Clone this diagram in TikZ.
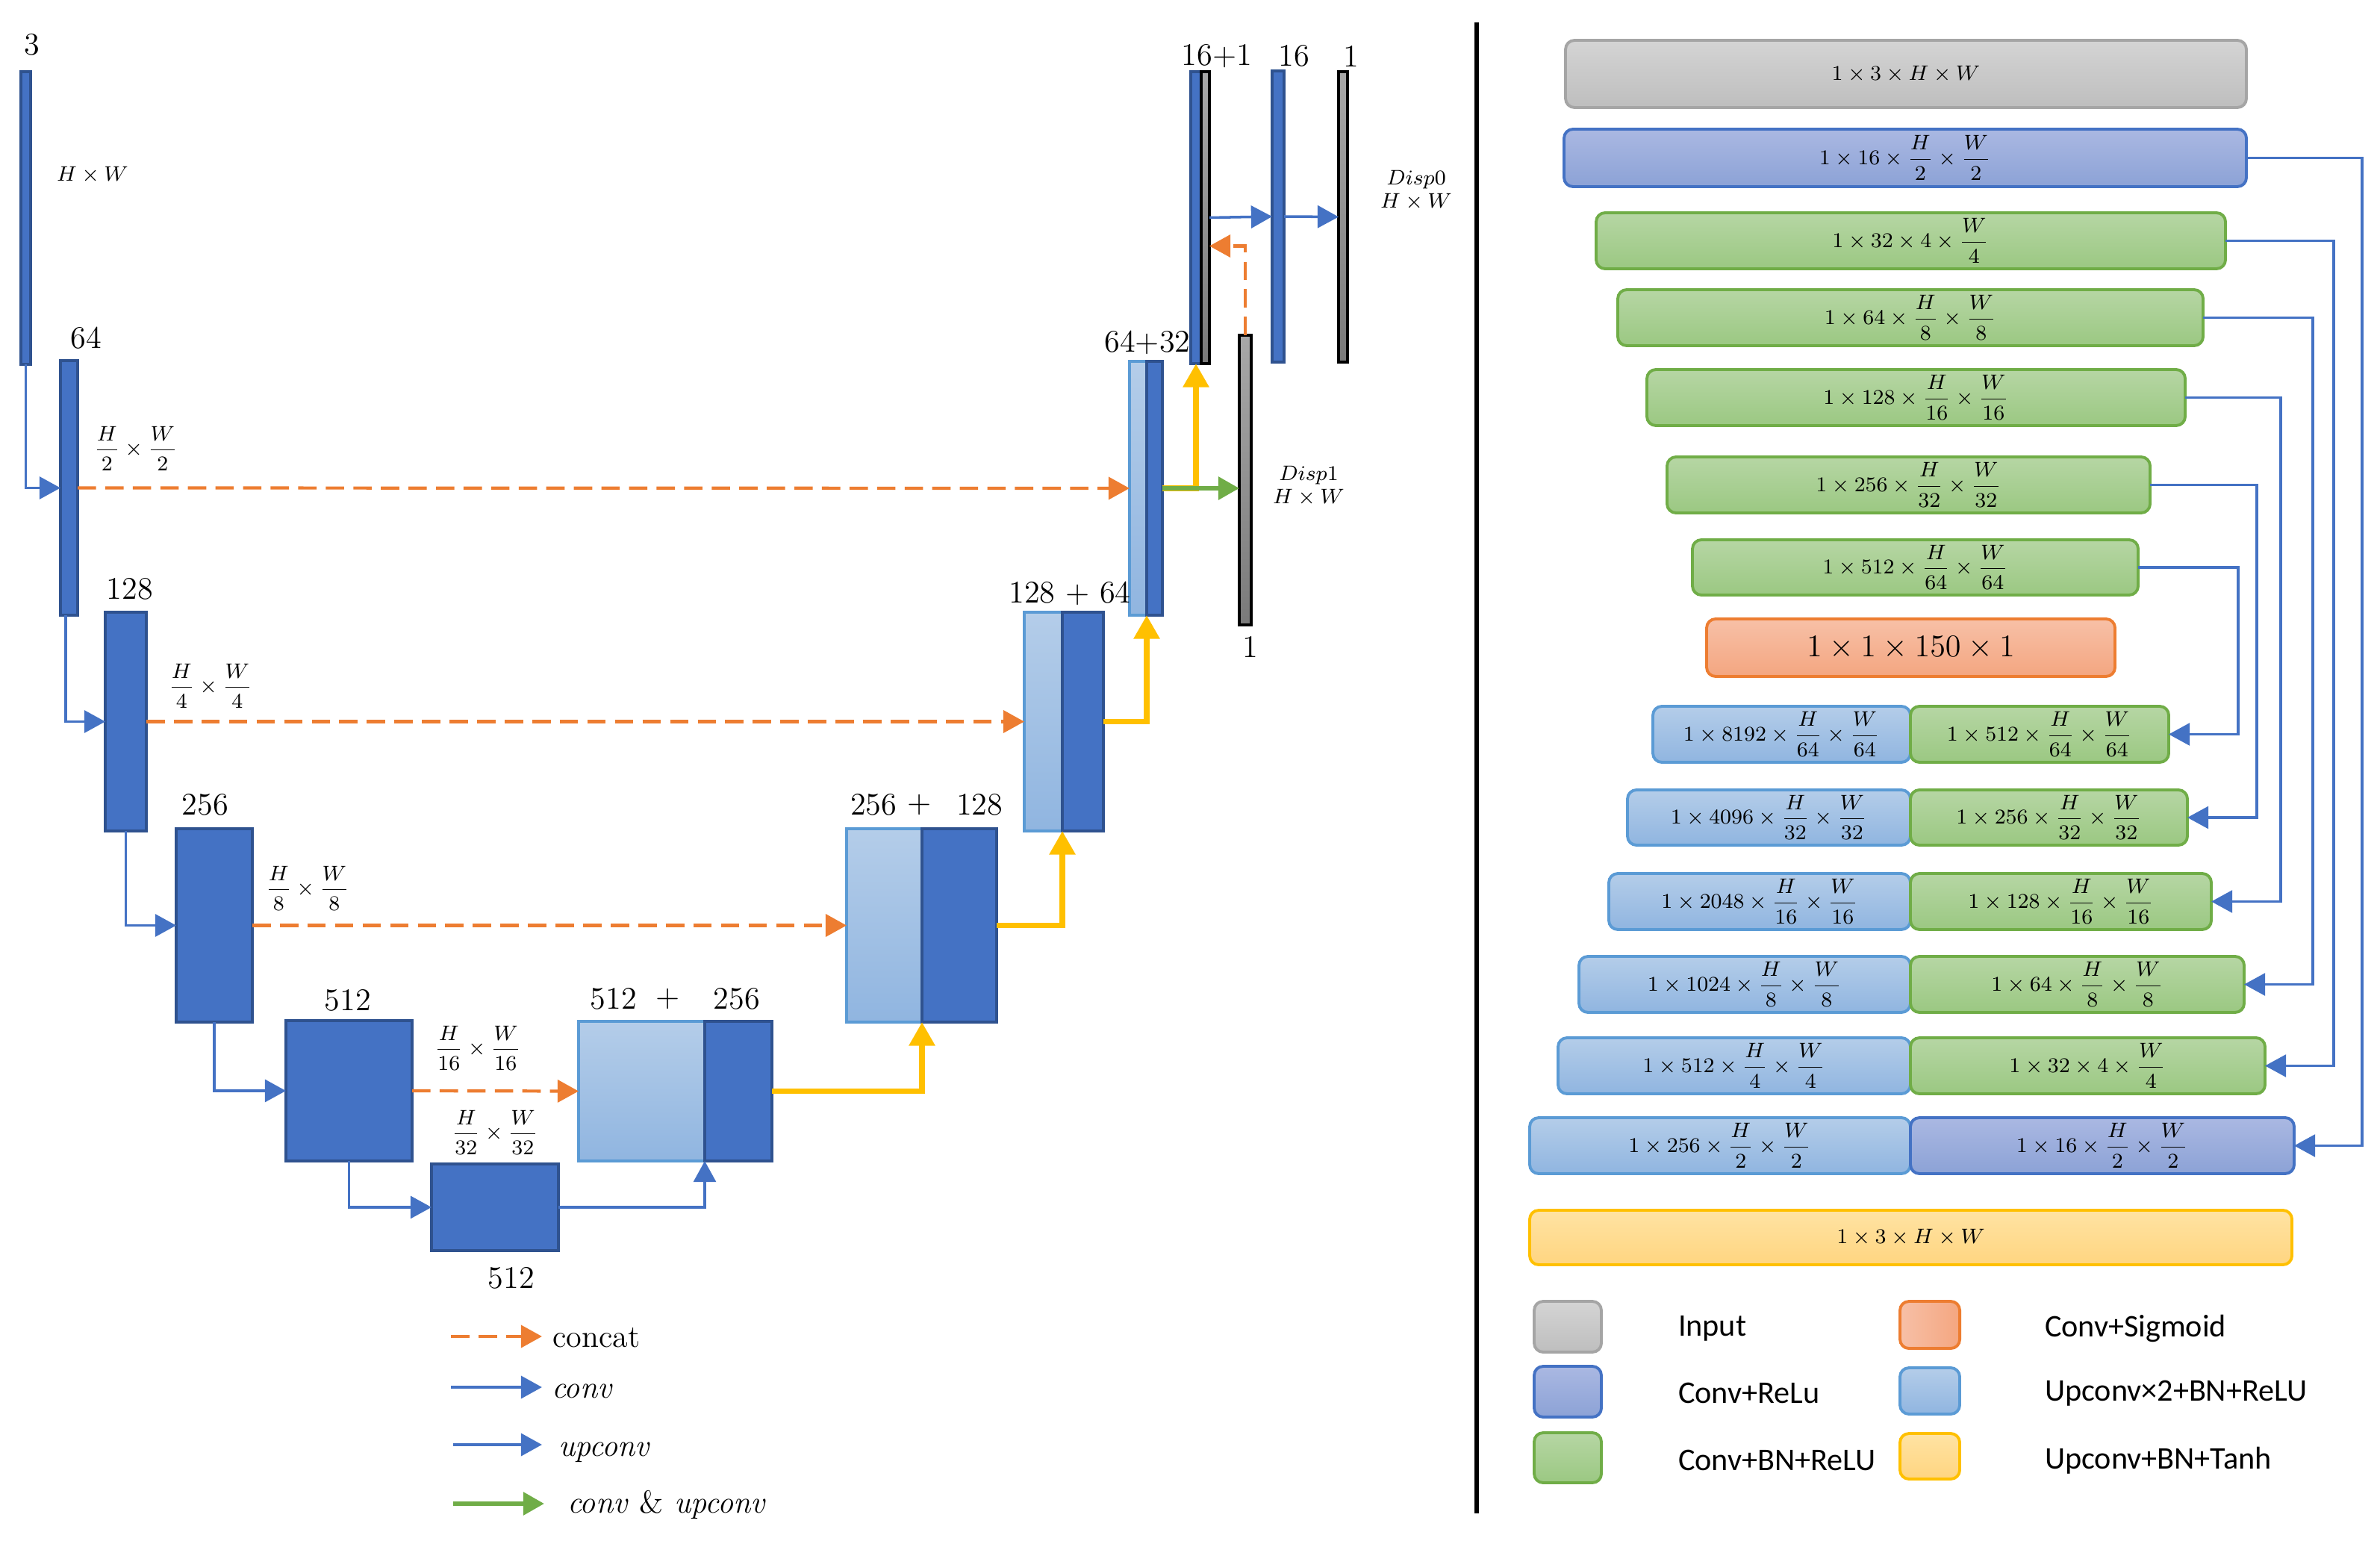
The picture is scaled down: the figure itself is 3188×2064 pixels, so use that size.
\documentclass[tikz,border=0pt]{standalone}
\usepackage{amsmath}
\usepackage{fontspec}
\newfontfamily\legfont{Carlito}
\usetikzlibrary{arrows.meta,calc}
\definecolor{encfill}{HTML}{4472C4}
\definecolor{encbord}{HTML}{2F528F}
\definecolor{uptop}{HTML}{B4CDE9}
\definecolor{upbot}{HTML}{90B5E0}
\definecolor{upbord}{HTML}{5B9BD5}
\definecolor{corange}{HTML}{ED7D31}
\definecolor{cyellow}{HTML}{FFC000}
\definecolor{cgreen}{HTML}{70AD47}
\definecolor{gtop}{HTML}{A8A8A8}
\definecolor{gbot}{HTML}{7A7A7A}
\definecolor{inptop}{HTML}{D4D4D4}
\definecolor{inpbot}{HTML}{BEBEBE}
\definecolor{inpbord}{HTML}{A5A5A5}
\definecolor{purtop}{HTML}{AAB8E2}
\definecolor{purbot}{HTML}{8CA2D6}
\definecolor{grntop}{HTML}{B6D6A4}
\definecolor{grnbot}{HTML}{9BC882}
\definecolor{orgtop}{HTML}{F7C0A7}
\definecolor{orgbot}{HTML}{F4A680}
\definecolor{yeltop}{HTML}{FFE3A3}
\definecolor{yelbot}{HTML}{FFD580}

\tikzset{
  nbase/.style={inner sep=0pt, outer sep=0pt},
  enc/.style={nbase, draw=encbord, fill=encfill, line width=1.3pt},
  upl/.style={nbase, draw=upbord, top color=uptop, bottom color=upbot, line width=0.9pt},
  gbar/.style={nbase, draw=black, top color=gtop, bottom color=gbot, line width=1.1pt},
  arrowtip/.style={-{Triangle[length=8pt,width=8.5pt]}},
  conn/.style={arrowtip, draw=encfill, line width=1pt},
  catl/.style={arrowtip, draw=corange, line width=1.2pt, dash pattern=on 7pt off 3.5pt},
  yel/.style={-{Triangle[length=9pt,width=9.5pt]}, draw=cyellow, line width=2.2pt},
  grn/.style={arrowtip, draw=cgreen, line width=1.8pt},
  numlab/.style={nbase, font=\fontsize{12}{14}\selectfont},
  dimlab/.style={nbase, font=\fontsize{8.5}{10}\selectfont, align=center},
  rb/.style={nbase, rounded corners=0.12cm, line width=1.1pt, font=\fontsize{8.5}{10}\selectfont},
  rin/.style={rb, draw=inpbord, top color=inptop, bottom color=inpbot},
  rpur/.style={rb, draw=encfill, top color=purtop, bottom color=purbot},
  rgrn/.style={rb, draw=cgreen, top color=grntop, bottom color=grnbot},
  rorg/.style={rb, draw=corange, top color=orgtop, bottom color=orgbot},
  rlb/.style={rb, draw=upbord, top color=uptop, bottom color=upbot},
  ryel/.style={rb, draw=cyellow, top color=yeltop, bottom color=yelbot},
  rconn/.style={arrowtip, draw=encfill, line width=0.9pt},
  legt/.style={nbase, anchor=west, font=\legfont\fontsize{12}{14}\selectfont},
  lleg/.style={nbase, anchor=base west, font=\fontsize{12}{14}\selectfont},
}
\newcommand\blk[6]{\node[#1, anchor=north west, minimum width={(#5-#3)*0.01cm}, minimum height={(#6-#4)*0.01cm}] (#2) at (#3,#4) {};}
\newcommand\rbx[7]{\node[#1, anchor=north west, minimum width={(#5-#3)*0.01cm}, minimum height={(#6-#4)*0.01cm}] (#2) at (#3,#4) {#7};}
\newcommand\dm[3]{$1\times #1\times\dfrac{H}{#2}\times\dfrac{W}{#3}$}

\begin{document}
\begin{tikzpicture}[x=0.01cm, y=-0.01cm]
\useasboundingbox (0,0) rectangle (3188,2064);

% ---------- encoder ----------
\blk{enc}{e3}{28}{96}{41}{488}
\blk{enc}{e64}{81}{483}{104}{824}
\blk{enc}{e128}{141}{820}{196}{1113}
\blk{enc}{e256}{236}{1110}{338}{1369}
\blk{enc}{e512}{383}{1367}{552}{1555}
\blk{enc}{bot}{578}{1559}{748}{1675}
% ---------- decoder ----------
\blk{upl}{d4l}{775}{1368}{944}{1555}
\blk{enc}{d4d}{944}{1368}{1034}{1555}
\blk{upl}{d3l}{1134}{1110}{1235}{1369}
\blk{enc}{d3d}{1235}{1110}{1335}{1369}
\blk{upl}{d2l}{1372}{820}{1423}{1113}
\blk{enc}{d2d}{1423}{820}{1478}{1113}
\blk{upl}{d1l}{1513}{484}{1536}{824}
\blk{enc}{d1d}{1536}{484}{1557}{824}
\blk{enc}{o1b}{1595}{96}{1609}{487}
\blk{gbar}{o1g}{1609}{96}{1620}{487}
\blk{enc}{b16}{1704}{95}{1720}{485}
\blk{gbar}{d0}{1793}{96}{1805}{485}
\blk{gbar}{disp1}{1660}{449}{1676}{837}

% ---------- labels ----------
\node[numlab] (t3) at (43,60) {3};
\node[dimlab] (thw) at (124,234) {$H\times W$};
\node[numlab] (t64) at (115,453) {64};
\node[dimlab] (f2) at (182,601) {$\dfrac{H}{2}\times\dfrac{W}{2}$};
\node[numlab] (t128) at (174,789) {128};
\node[dimlab] (f4) at (282,919) {$\dfrac{H}{4}\times\dfrac{W}{4}$};
\node[numlab] (t256) at (275,1078) {256};
\node[dimlab] (f8) at (412,1190) {$\dfrac{H}{8}\times\dfrac{W}{8}$};
\node[numlab] (t512) at (466,1340) {512};
\node[dimlab] (f16) at (640,1404) {$\dfrac{H}{16}\times\dfrac{W}{16}$};
\node[dimlab] (f32) at (663,1517) {$\dfrac{H}{32}\times\dfrac{W}{32}$};
\node[numlab] (t512b) at (685,1712) {512};
\node[numlab] (d4a) at (822,1338) {512};
\node[numlab] (d4p) at (895,1338) {+};
\node[numlab] (d4b) at (987,1338) {256};
\node[numlab] (d3a) at (1170,1078) {256};
\node[numlab] (d3p) at (1232,1078) {+};
\node[numlab] (d3b) at (1312,1078) {128};
\node[numlab] (t12864) at (1433,795) {128 + 64};
\node[numlab] (t6432) at (1537,459) {64+32};
\node[numlab] (t161) at (1630,75) {16+1};
\node[numlab] (t16) at (1733,75) {16};
\node[numlab] (t1a) at (1810,75) {1};
\node[numlab] (t1b) at (1675,866) {1};
\node[dimlab] (ldisp0) at (1897,255) {$Disp0$\\[-1pt]$H\times W$};
\node[dimlab] (ldisp1) at (1753,651) {$Disp1$\\[-1pt]$H\times W$};

% ---------- encoder connectors ----------
\draw[conn] (e3.south) |- (e64.west);
\draw[conn] ([xshift=-0.045cm]e64.south) |- (e128.west);
\draw[conn] (e128.south) |- (e256.west);
\draw[conn] (e256.south) |- (e512.west);
\draw[conn] (e512.south) |- (bot.west);
\draw[conn] (bot.east) -| (d4l.south east);
% ---------- skip connections ----------
\draw[catl] (e64.east) -- (d1l.west);
\draw[catl] (e128.east) -- (d2l.west);
\draw[catl] (e256.east) -- (d3l.west);
\draw[catl] (e512.east) -- (d4l.west);
% ---------- up paths ----------
\draw[yel] (d4d.east) -| (d3l.south east);
\draw[yel] (d3d.east) -| (d2l.south east);
\draw[yel] (d2d.east) -| (d1l.south east);
\draw[yel] (d1d.east) -| (o1b.south);
\draw[grn] (d1d.east) -- (d1d.east -| disp1.west);
\draw[catl] (disp1.north) |- ($(o1g.east)+(0,38)$);
\draw[conn] (o1g.east) -- (b16.west);
\draw[conn] (b16.east) -- (d0.west);

% ---------- left legend ----------
\coordinate (la1) at (604,1790); \coordinate (la2) at (726,1790);
\coordinate (lb1) at (604,1858); \coordinate (lb2) at (726,1858);
\coordinate (lc1) at (607,1935); \coordinate (lc2) at (726,1935);
\coordinate (ld1) at (607,2014); \coordinate (ld2) at (729,2014);
\draw[catl] (la1) -- (la2);
\draw[conn, line width=1.2pt] (lb1) -- (lb2);
\draw[conn, line width=1.2pt] (lc1) -- (lc2);
\draw[grn] (ld1) -- (ld2);
\node[lleg] (lgcat) at (740,1804) {concat};
\node[lleg] (lgconv) at (739,1872) {\itshape conv};
\node[lleg] (lgup) at (748,1950) {\itshape upconv};
\node[lleg] (lgcu) at (760,2026) {\itshape conv \textup{\&} upconv};

% ---------- divider ----------
\coordinate (dv1) at (1978,30); \coordinate (dv2) at (1978,2027);
\draw[line width=1.5pt] (dv1) -- (dv2);

% ---------- right column ----------
\rbx{rin}{inp}{2097}{54}{3009}{144}{$1\times 3\times H\times W$}
\rbx{rpur}{c0}{2095}{173}{3009}{250}{\dm{16}{2}{2}}
\rbx{rgrn}{g1}{2138}{285}{2981}{360}{$1\times 32\times 4\times\dfrac{W}{4}$}
\rbx{rgrn}{g2}{2167}{388}{2951}{463}{\dm{64}{8}{8}}
\rbx{rgrn}{g3}{2206}{495}{2927}{570}{\dm{128}{16}{16}}
\rbx{rgrn}{g4}{2233}{612}{2880}{687}{\dm{256}{32}{32}}
\rbx{rgrn}{g5}{2267}{723}{2864}{797}{\dm{512}{64}{64}}
\rbx{rorg}{sig}{2286}{829}{2833}{906}{\fontsize{12}{14}\selectfont $1\times 1\times 150\times 1$}
\rbx{rlb}{r1b}{2214}{946}{2559}{1021}{\dm{8192}{64}{64}}
\rbx{rgrn}{r1g}{2559}{946}{2905}{1021}{\dm{512}{64}{64}}
\rbx{rlb}{r2b}{2180}{1058}{2559}{1132}{\dm{4096}{32}{32}}
\rbx{rgrn}{r2g}{2559}{1058}{2930}{1132}{\dm{256}{32}{32}}
\rbx{rlb}{r3b}{2155}{1170}{2559}{1245}{\dm{2048}{16}{16}}
\rbx{rgrn}{r3g}{2559}{1170}{2962}{1245}{\dm{128}{16}{16}}
\rbx{rlb}{r4b}{2115}{1281}{2559}{1356}{\dm{1024}{8}{8}}
\rbx{rgrn}{r4g}{2559}{1281}{3006}{1356}{\dm{64}{8}{8}}
\rbx{rlb}{r5b}{2087}{1390}{2559}{1465}{\dm{512}{4}{4}}
\rbx{rgrn}{r5g}{2559}{1390}{3034}{1465}{$1\times 32\times 4\times\dfrac{W}{4}$}
\rbx{rlb}{r6b}{2049}{1497}{2559}{1572}{\dm{256}{2}{2}}
\rbx{rpur}{r6p}{2559}{1497}{3073}{1572}{\dm{16}{2}{2}}
\rbx{ryel}{outb}{2049}{1621}{3070}{1694}{$1\times 3\times H\times W$}

\draw[rconn] (c0.east) -- ++(155,0) |- (r6p.east);
\draw[rconn] (g1.east) -- ++(145,0) |- (r5g.east);
\draw[rconn] (g2.east) -- ++(147,0) |- (r4g.east);
\draw[rconn] (g3.east) -- ++(128,0) |- (r3g.east);
\draw[rconn] (g4.east) -- ++(143,0) |- (r2g.east);
\draw[rconn] (g5.east) -- ++(134,0) |- (r1g.east);

% ---------- right legend ----------
\rbx{rin}{lq1}{2055}{1743}{2145}{1811}{}
\rbx{rpur}{lq2}{2055}{1830}{2145}{1898}{}
\rbx{rgrn}{lq3}{2055}{1919}{2145}{1986}{}
\node[rb, draw=corange, left color=orgtop, right color=orgbot, anchor=north west, minimum width=0.8cm, minimum height=0.63cm] (lq4) at (2545,1743) {};
\rbx{rlb}{lq5}{2545}{1832}{2625}{1894}{}
\rbx{ryel}{lq6}{2545}{1920}{2625}{1981}{}
\node[legt] (lt1) at (2248,1779) {Input};
\node[legt] (lt2) at (2248,1866) {Conv+ReLu};
\node[legt] (lt3) at (2248,1956) {Conv+BN+ReLU};
\node[legt] (lt4) at (2739,1779) {Conv+Sigmoid};
\node[legt] (lt5) at (2739,1866) {Upconv×2+BN+ReLU};
\node[legt] (lt6) at (2739,1956) {Upconv+BN+Tanh};
\end{tikzpicture}
\end{document}
